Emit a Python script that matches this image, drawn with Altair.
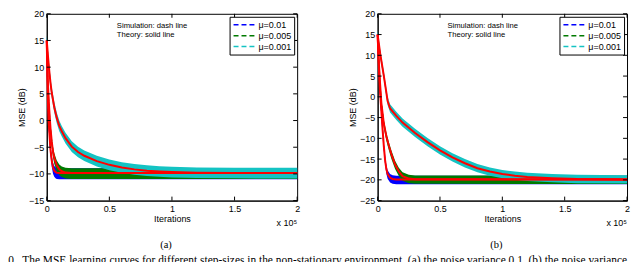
import altair as alt
import pandas as pd

SERIES = ["μ=0.01", "μ=0.005", "μ=0.001"]
COLORS = ["#0000ff", "#007a00", "#14c3c3"]
XTICKS = [0, 0.5, 1, 1.5, 2]

# ---- panel (a): noise variance 0.1 (x in units of 1e5 iterations, y in dB)
a_blue_x = [0, 0.005, 0.01, 0.015, 0.02, 0.03, 0.04, 0.05, 0.06, 0.07, 0.08, 0.1, 0.15, 2.0]
a_blue_y = [15, 8, 3, 0, -2, -5.5, -7.5, -8.8, -9.4, -9.65, -9.8, -9.85, -9.85, -9.85]
a_green_x = [0, 0.01, 0.02, 0.03, 0.04, 0.05, 0.06, 0.08, 0.1, 0.12, 0.15, 0.2, 2.0]
a_green_y = [15, 6.5, 2, -1.5, -4, -5.8, -7, -8.4, -9.15, -9.5, -9.75, -9.85, -9.85]
a_cyan_x = [0, 0.01, 0.02, 0.03, 0.04, 0.06, 0.08, 0.1, 0.12, 0.15, 0.2, 0.25, 0.3,
            0.4, 0.5, 0.6, 0.7, 0.8, 0.9, 1.0, 1.2, 1.5, 2.0]
a_cyan_y = [15, 12, 9.3, 7, 5.2, 2.5, 0.5, -1.0, -2.0, -3.3, -4.9, -5.9, -6.6,
            -7.6, -8.3, -8.8, -9.15, -9.4, -9.55, -9.65, -9.78, -9.83, -9.85]

# ---- panel (b): noise variance 0.01
b_blue_x = [0, 0.01, 0.02, 0.03, 0.04, 0.05, 0.06, 0.07, 0.08, 0.1, 0.12, 0.15, 2.0]
b_blue_y = [15, 7, 1, -3.5, -8, -12, -15.3, -17.4, -18.6, -19.5, -19.8, -19.9, -19.9]
b_green_x = [0, 0.01, 0.02, 0.03, 0.05, 0.07, 0.09, 0.11, 0.14, 0.17, 0.2, 0.25, 0.3, 2.0]
b_green_y = [15, 8, 3, -1.5, -6.5, -9.5, -11.8, -13.8, -16.3, -18, -19.1, -19.7, -19.85, -19.9]
b_cyan_x = [0, 0.02, 0.05, 0.08, 0.1, 0.15, 0.2, 0.3, 0.4, 0.5, 0.6, 0.7, 0.8, 0.9,
            1.0, 1.1, 1.2, 1.4, 1.6, 2.0]
b_cyan_y = [15, 10.5, 5, -1, -2.8, -4.6, -6.2, -8.7, -10.9, -12.9, -14.6, -16, -17.2, -18,
            -18.6, -19, -19.3, -19.6, -19.8, -19.9]

# spread of the simulated (noisy) curves around the theory, dB
band_up = [0.9, 0.9, 1.0]
band_dn = [1.15, 1.1, 1.0]

a_yticks = [-15, -10, -5, 0, 5, 10, 15, 20]
b_yticks = [-25, -20, -15, -10, -5, 0, 5, 10, 15, 20]
ann_text = ["Simulation: dash line", "Theory: solid line"]
a_ann_y = [17.7, 16.1]
b_ann_y = [17.05, 15.0]
ann_x = 0.56

CAPTION = ("0.\u00a0 The MSE learning curves for different step-sizes in the non-stationary "
           "environment. (a) the noise variance 0.1, (b) the noise variance")

FONT = "Liberation Sans"


def panel(curves, ydom, yticks, ann_y, label, W, H):
    theory = pd.concat([pd.DataFrame({"x": xs, "y": ys, "series": s})
                        for (xs, ys), s in zip(curves, SERIES)])
    xaxis = alt.Axis(values=XTICKS, title="Iterations", labelExpr="format(datum.value, '~g')",
                     tickSize=0, labelPadding=4, titlePadding=1, grid=False,
                     labelFont=FONT, titleFont=FONT, labelFontSize=9, titleFontSize=9,
                     titleFontWeight="normal", domainColor="black", labelColor="black",
                     titleColor="black", labelFlush=False)
    yaxis = alt.Axis(values=yticks, title="MSE (dB)", tickSize=0, labelPadding=3,
                     titlePadding=2, grid=False, labelFont=FONT, titleFont=FONT,
                     labelFontSize=9, titleFontSize=9, titleFontWeight="normal",
                     domainColor="black", labelColor="black", titleColor="black",
                     labelFlush=False)
    xs_ = alt.Scale(domain=[0, 2], nice=False, zero=False)
    ys_ = alt.Scale(domain=ydom, nice=False, zero=False)

    def X(f):
        return alt.X(f, scale=xs_, axis=xaxis)

    def Y(f):
        return alt.Y(f, scale=ys_, axis=yaxis)

    legend_layer = alt.Chart(theory).mark_line(strokeDash=[5, 3], strokeWidth=1).encode(
        x=X("x:Q"), y=Y("y:Q"),
        color=alt.Color("series:N", scale=alt.Scale(domain=SERIES, range=COLORS),
                        legend=alt.Legend(title=None, orient="top-right", offset=3,
                                          strokeColor="black", fillColor="white",
                                          padding=3, symbolType="M-1,0H4.5", symbolSize=64,
                                          symbolStrokeWidth=1.5, symbolDash=[5, 3],
                                          labelFont=FONT, labelFontSize=9, labelOffset=16,
                                          rowPadding=1, labelColor="black")),
        order=alt.value(0))

    bands = []
    for (xs, ys), s, c, up, dn in zip(curves, SERIES, COLORS, band_up, band_dn):
        df = pd.DataFrame({"x": xs, "lo": [v - dn for v in ys], "hi": [v + up for v in ys]})
        bands.append(alt.Chart(df).mark_area(color=c, opacity=1).encode(
            x=X("x:Q"), y=Y("lo:Q"), y2="hi:Q"))

    theory_layer = alt.Chart(theory).mark_line(color="#ff0000", strokeWidth=2).encode(
        x=X("x:Q"), y=Y("y:Q"), detail="series:N")

    xt = pd.DataFrame({"t": XTICKS})
    yt = pd.DataFrame({"t": yticks})
    tk = dict(color="black", strokeWidth=1)
    ticks = [
        alt.Chart(xt).mark_rule(**tk).encode(x=X("t:Q"), y=alt.value(H), y2=alt.value(H - 4)),
        alt.Chart(xt).mark_rule(**tk).encode(x=X("t:Q"), y=alt.value(0), y2=alt.value(4)),
        alt.Chart(yt).mark_rule(**tk).encode(y=Y("t:Q"), x=alt.value(0), x2=alt.value(4)),
        alt.Chart(yt).mark_rule(**tk).encode(y=Y("t:Q"), x=alt.value(W), x2=alt.value(W - 4)),
    ]

    ann = pd.DataFrame({"x": [ann_x, ann_x], "y": ann_y, "text": ann_text})
    ann_layer = alt.Chart(ann).mark_text(align="left", baseline="middle", font=FONT,
                                         fontSize=7.7, color="black").encode(
        x=X("x:Q"), y=Y("y:Q"), text="text:N")

    exp_layer = alt.Chart(ann.head(1)).mark_text(
        text="x 10⁵", align="right", baseline="middle", font=FONT, fontSize=9,
        color="black").encode(x=alt.value(W), y=alt.value(H + 23))
    lab_layer = alt.Chart(ann.head(1)).mark_text(
        text=label, align="center", baseline="middle", font="Liberation Serif",
        fontSize=10.5, color="black").encode(x=alt.value(W / 2 - 6), y=alt.value(H + 45))

    return alt.layer(legend_layer, *bands, theory_layer, *ticks, ann_layer,
                     exp_layer, lab_layer).properties(width=W, height=H)


pa = panel([(a_blue_x, a_blue_y), (a_green_x, a_green_y), (a_cyan_x, a_cyan_y)],
           [-15, 20], a_yticks, a_ann_y, "(a)", 252, 188)
pb = panel([(b_blue_x, b_blue_y), (b_green_x, b_green_y), (b_cyan_x, b_cyan_y)],
           [-25, 20], b_yticks, b_ann_y, "(b)", 251, 188)

chart = alt.hconcat(pa, pb, spacing=46).resolve_scale(
    color="independent", x="independent", y="independent").properties(
    title=alt.Title(text=CAPTION, orient="bottom", anchor="start", font="Liberation Serif",
                    fontSize=11.5, fontWeight="normal", color="black", dx=-9, offset=4),
    padding={"top": 0, "left": 0, "right": 0, "bottom": 0},
).configure_view(stroke="black", strokeWidth=1)

chart.save("out.html", embed_options={"renderer": "svg", "actions": False})
